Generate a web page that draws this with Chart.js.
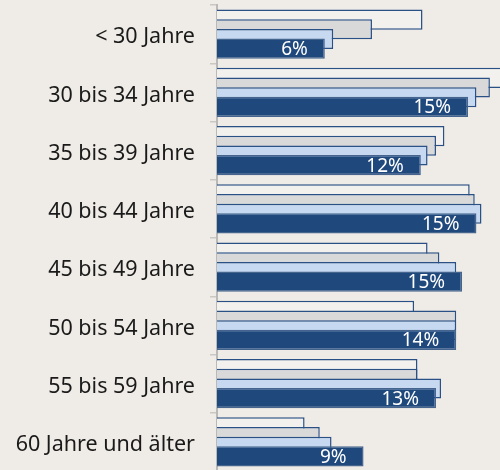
<!DOCTYPE html>
<html>
<head>
<meta charset="utf-8">
<script src="https://cdn.jsdelivr.net/npm/chart.js@4"></script>
<style>
  html, body { margin: 0; padding: 0; background: #efebe6; overflow: hidden; }
  #wrap { width: 500px; height: 471px; position: relative; }
</style>
</head>
<body>
<div id="wrap"><canvas id="c"></canvas></div>
<script>
const categories = ['< 30 Jahre', '30 bis 34 Jahre', '35 bis 39 Jahre', '40 bis 44 Jahre', '45 bis 49 Jahre', '50 bis 54 Jahre', '55 bis 59 Jahre', '60 Jahre und älter'];
const series1 = [12.2, 17.5, 13.5, 15.0, 12.5, 11.7, 11.9, 5.2];
const series2 = [9.2, 16.2, 13.0, 15.3, 13.2, 14.2, 11.9, 6.1];
const series3 = [6.9, 15.4, 12.5, 15.7, 14.2, 14.2, 13.3, 6.8];
const series4 = [6.4, 14.9, 12.1, 15.4, 14.55, 14.2, 13.0, 8.7];
const xMin = 0;
const xMax = 16.8;

const drawInOrder = {
  id: 'drawInOrder',
  beforeDatasetsDraw(chart) {
    const ctx = chart.ctx;
    const a = chart.chartArea;
    ctx.save();
    ctx.beginPath();
    ctx.rect(a.left, 0, a.right - a.left, chart.height);
    ctx.clip();
    for (let i = 0; i < chart.data.datasets.length; i++) {
      const meta = chart.getDatasetMeta(i);
      if (chart.isDatasetVisible(i)) meta.controller.draw();
    }
    ctx.restore();
    return false;
  }
};

const valueLabels = {
  id: 'valueLabels',
  afterDraw(chart) {
    const ctx = chart.ctx;
    const idx = chart.data.datasets.length - 1;
    const meta = chart.getDatasetMeta(idx);
    const data = chart.data.datasets[idx].data;
    ctx.save();
    ctx.fillStyle = '#ffffff';
    ctx.font = '19px "Liberation Sans Narrow", "Noto Sans", sans-serif';
    ctx.textAlign = 'right';
    ctx.textBaseline = 'middle';
    meta.data.forEach((bar, i) => {
      ctx.fillText(Math.round(data[i]) + '%', bar.x - 17, bar.y + 1);
    });
    ctx.restore();
  }
};

const border = '#2a5185';
new Chart(document.getElementById('c'), {
  type: 'bar',
  data: {
    labels: categories,
    datasets: [
      { data: series1, backgroundColor: '#f3f1ee', borderColor: border, borderWidth: 1.5 },
      { data: series2, backgroundColor: '#d9d9d9', borderColor: border, borderWidth: 1.5 },
      { data: series3, backgroundColor: '#c6d9f1', borderColor: border, borderWidth: 1.5 },
      { data: series4, backgroundColor: '#1f497d', borderColor: '#45658f', borderWidth: 1.5 }
    ]
  },
  options: {
    indexAxis: 'y',
    responsive: true,
    maintainAspectRatio: false,
    animation: false,
    categoryPercentage: 0.664,
    barPercentage: 2.07,
    layout: { padding: { top: 5, right: 0, bottom: 0, left: 0 } },
    plugins: { legend: { display: false }, tooltip: { enabled: false } },
    scales: {
      x: { display: false, min: xMin, max: xMax },
      y: {
        afterFit(scale) { scale.width = 217; scale.paddingTop = 0; scale.paddingBottom = 0; },
        grid: { offset: true, drawOnChartArea: false, drawTicks: true, tickLength: 7, color: '#cbc7c2', lineWidth: 1.5 },
        border: { display: true, color: '#b9b9b9', width: 2 },
        ticks: {
          autoSkip: false,
          padding: 15,
          labelOffset: 3,
          color: '#1a1a1a',
          font: { family: '"Noto Sans", sans-serif', size: 21.5 }
        }
      }
    }
  },
  plugins: [drawInOrder, valueLabels]
});
</script>
</body>
</html>
